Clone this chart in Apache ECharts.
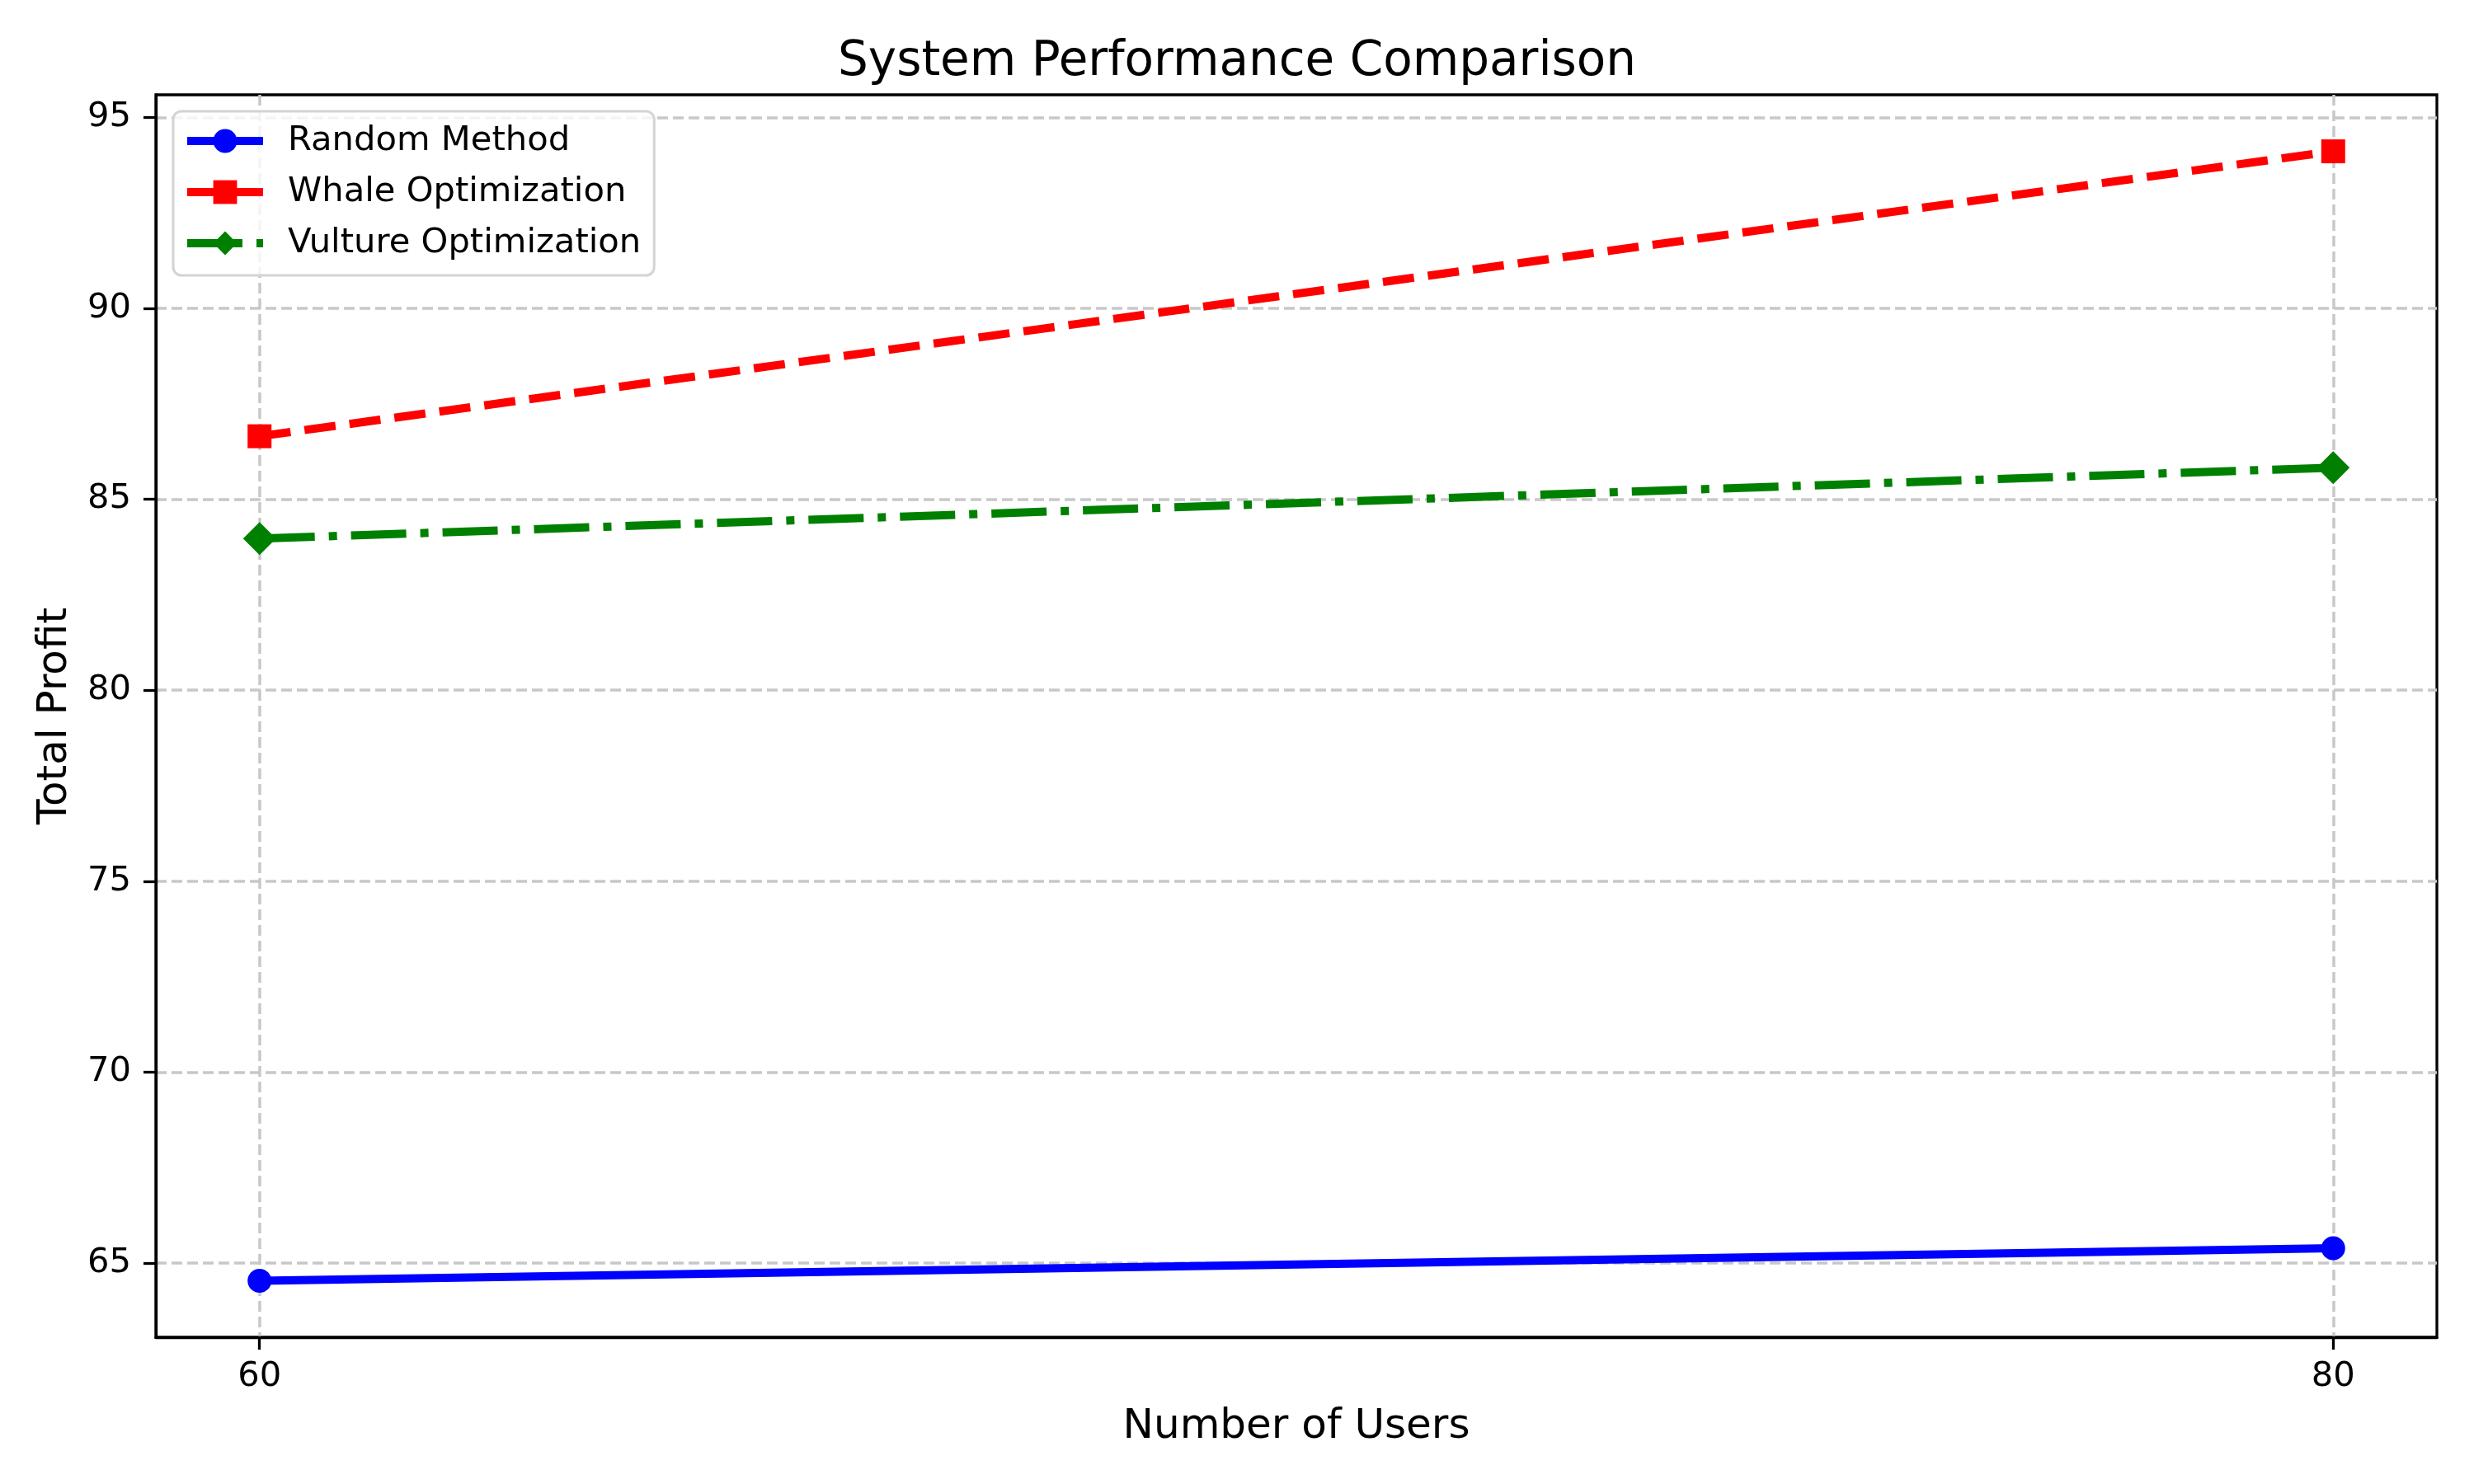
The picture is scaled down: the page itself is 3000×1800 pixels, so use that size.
<!DOCTYPE html>
<html>
<head>
<meta charset="utf-8">
<script src="https://cdn.jsdelivr.net/npm/echarts@6/dist/echarts.min.js"></script>
<style>
  html, body { margin: 0; padding: 0; background: #fff; }
  #chart { width: 3000px; height: 1800px; }
</style>
</head>
<body>
<div id="chart"></div>
<script>
  // data
  const users = [60, 80];
  const randomMethod = [64.54, 65.39];
  const whaleOpt = [86.65, 94.11];
  const vultureOpt = [83.97, 85.83];
  const xTicks = [60, 80];
  const yTicks = [65, 70, 75, 80, 85, 90, 95];

  const font = 'DejaVu Sans';
  let chart = echarts.init(document.getElementById('chart'));

  let pairs = (ys) => users.map((x, i) => [x, ys[i]]);

  let makeSeries = (name, ys, color, symbol, size, dash) => {
    return {
      type: 'line',
      name: name,
      data: pairs(ys),
      symbol: symbol,
      symbolSize: size,
      showAllSymbol: true,
      itemStyle: { color: color },
      lineStyle: { color: color, width: 10, type: dash, cap: 'butt' },
      emphasis: { disabled: true },
      z: 3
    };
  };

  let gridLine = {
    show: true,
    lineStyle: { color: '#c8c8c8', width: 3.5, type: [13, 6] }
  };

  let option = {
    animation: false,
    backgroundColor: '#ffffff',
    title: {
      text: 'System Performance Comparison',
      left: 'center',
      top: 42,
      textStyle: { fontFamily: font, fontSize: 58, fontWeight: 'normal', color: '#000' }
    },
    legend: {
      left: 210,
      top: 135,
      orient: 'vertical',
      padding: [15, 16, 18, 12],
      itemWidth: 92,
      itemHeight: 36,
      itemGap: 20,
      borderColor: '#d4d4d4',
      borderWidth: 3,
      borderRadius: 10,
      backgroundColor: 'rgba(255,255,255,0.8)',
      lineStyle: { width: 10, type: 'inherit' },
      textStyle: { fontFamily: font, fontSize: 41.7, color: '#000', lineHeight: 36, padding: [0, 0, 0, 25] },
      data: ['Random Method', 'Whale Optimization', 'Vulture Optimization']
    },
    grid: {
      left: 189,
      right: 45,
      top: 115,
      bottom: 178,
      show: true,
      borderColor: '#000',
      borderWidth: 3.3,
      backgroundColor: 'transparent'
    },
    xAxis: {
      type: 'value',
      min: 59,
      max: 81,
      name: 'Number of Users',
      nameLocation: 'middle',
      nameGap: 84,
      nameTextStyle: { fontFamily: font, fontSize: 50, color: '#000' },
      axisLine: { show: true, lineStyle: { color: '#000', width: 3.3 } },
      axisTick: { show: true, length: 15, lineStyle: { color: '#000', width: 3.3 }, customValues: xTicks },
      axisLabel: { fontFamily: font, fontSize: 41.7, color: '#000', margin: 27, customValues: xTicks },
      splitLine: gridLine
    },
    yAxis: {
      type: 'value',
      min: 63.06,
      max: 95.59,
      name: 'Total Profit',
      nameLocation: 'middle',
      nameGap: 97,
      nameTextStyle: { fontFamily: font, fontSize: 50, color: '#000' },
      axisLine: { show: true, lineStyle: { color: '#000', width: 3.3 } },
      axisTick: { show: true, length: 15, lineStyle: { color: '#000', width: 3.3 }, customValues: yTicks },
      axisLabel: { fontFamily: font, fontSize: 41.7, color: '#000', margin: 30, customValues: yTicks },
      splitLine: gridLine
    },
    series: [
      makeSeries('Random Method', randomMethod, '#0000ff', 'circle', 29, 'solid'),
      makeSeries('Whale Optimization', whaleOpt, '#ff0000', 'rect', 29, [38, 17]),
      makeSeries('Vulture Optimization', vultureOpt, '#008000', 'diamond', 40, [67, 17, 10, 17])
    ]
  };

  chart.setOption(option);
</script>
</body>
</html>
